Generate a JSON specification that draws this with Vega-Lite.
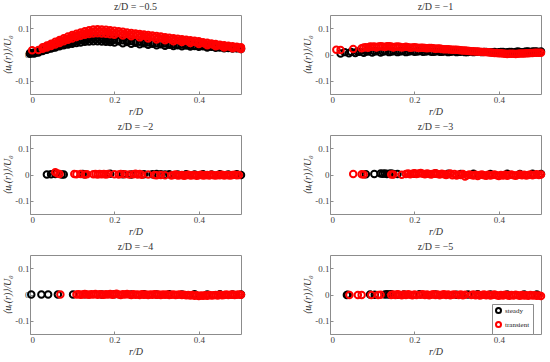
{
"$schema":"https://vega.github.io/schema/vega-lite/v6.json",
"background":"white",
"padding":{"left":2,"top":1,"right":2,"bottom":1},
"columns":2,
"spacing":{"row":4,"column":53},
"data":{"values":[
{"z":"-0.5","s":"steady","r":0,"u":0.006},{"z":"-0.5","s":"steady","r":0.01,"u":0.008},{"z":"-0.5","s":"steady","r":0.02,"u":0.012},{"z":"-0.5","s":"steady","r":0.03,"u":0.017},{"z":"-0.5","s":"steady","r":0.04,"u":0.022},{"z":"-0.5","s":"steady","r":0.05,"u":0.027},{"z":"-0.5","s":"steady","r":0.06,"u":0.032},{"z":"-0.5","s":"steady","r":0.07,"u":0.037},{"z":"-0.5","s":"steady","r":0.08,"u":0.042},{"z":"-0.5","s":"steady","r":0.09,"u":0.047},{"z":"-0.5","s":"steady","r":0.1,"u":0.052},{"z":"-0.5","s":"steady","r":0.11,"u":0.056},{"z":"-0.5","s":"steady","r":0.12,"u":0.06},{"z":"-0.5","s":"steady","r":0.13,"u":0.063},{"z":"-0.5","s":"steady","r":0.14,"u":0.065},{"z":"-0.5","s":"steady","r":0.15,"u":0.066},{"z":"-0.5","s":"steady","r":0.16,"u":0.065},{"z":"-0.5","s":"steady","r":0.17,"u":0.064},{"z":"-0.5","s":"steady","r":0.18,"u":0.062},{"z":"-0.5","s":"steady","r":0.19,"u":0.06},{"z":"-0.5","s":"steady","r":0.2,"u":0.058},{"z":"-0.5","s":"steady","r":0.21,"u":0.056},{"z":"-0.5","s":"steady","r":0.22,"u":0.054},{"z":"-0.5","s":"steady","r":0.23,"u":0.052},{"z":"-0.5","s":"steady","r":0.24,"u":0.051},{"z":"-0.5","s":"steady","r":0.25,"u":0.049},{"z":"-0.5","s":"steady","r":0.26,"u":0.048},{"z":"-0.5","s":"steady","r":0.27,"u":0.047},{"z":"-0.5","s":"steady","r":0.28,"u":0.046},{"z":"-0.5","s":"steady","r":0.29,"u":0.045},{"z":"-0.5","s":"steady","r":0.3,"u":0.044},{"z":"-0.5","s":"steady","r":0.31,"u":0.043},{"z":"-0.5","s":"steady","r":0.32,"u":0.042},{"z":"-0.5","s":"steady","r":0.33,"u":0.041},{"z":"-0.5","s":"steady","r":0.34,"u":0.04},{"z":"-0.5","s":"steady","r":0.35,"u":0.039},{"z":"-0.5","s":"steady","r":0.36,"u":0.038},{"z":"-0.5","s":"steady","r":0.37,"u":0.037},{"z":"-0.5","s":"steady","r":0.38,"u":0.036},{"z":"-0.5","s":"steady","r":0.39,"u":0.035},{"z":"-0.5","s":"steady","r":0.4,"u":0.034},{"z":"-0.5","s":"steady","r":0.41,"u":0.033},{"z":"-0.5","s":"steady","r":0.42,"u":0.032},{"z":"-0.5","s":"steady","r":0.43,"u":0.031},{"z":"-0.5","s":"steady","r":0.44,"u":0.03},{"z":"-0.5","s":"steady","r":0.45,"u":0.029},{"z":"-0.5","s":"steady","r":0.46,"u":0.028},{"z":"-0.5","s":"steady","r":0.47,"u":0.027},{"z":"-0.5","s":"steady","r":0.48,"u":0.026},{"z":"-0.5","s":"steady","r":0.49,"u":0.025},{"z":"-0.5","s":"steady","r":0.5,"u":0.024},
{"z":"-0.5","s":"steady","r":0,"u":0.003},{"z":"-0.5","s":"steady","r":0.01,"u":0.004},{"z":"-0.5","s":"steady","r":0.02,"u":0.008},{"z":"-0.5","s":"steady","r":0.03,"u":0.013},{"z":"-0.5","s":"steady","r":0.04,"u":0.018},{"z":"-0.5","s":"steady","r":0.05,"u":0.023},{"z":"-0.5","s":"steady","r":0.06,"u":0.027},{"z":"-0.5","s":"steady","r":0.07,"u":0.031},{"z":"-0.5","s":"steady","r":0.08,"u":0.035},{"z":"-0.5","s":"steady","r":0.09,"u":0.038},{"z":"-0.5","s":"steady","r":0.1,"u":0.041},{"z":"-0.5","s":"steady","r":0.11,"u":0.044},{"z":"-0.5","s":"steady","r":0.12,"u":0.046},{"z":"-0.5","s":"steady","r":0.13,"u":0.048},{"z":"-0.5","s":"steady","r":0.14,"u":0.049},{"z":"-0.5","s":"steady","r":0.15,"u":0.05},{"z":"-0.5","s":"steady","r":0.16,"u":0.05},{"z":"-0.5","s":"steady","r":0.17,"u":0.049},{"z":"-0.5","s":"steady","r":0.18,"u":0.048},{"z":"-0.5","s":"steady","r":0.19,"u":0.047},{"z":"-0.5","s":"steady","r":0.2,"u":0.046},{"z":"-0.5","s":"steady","r":0.22,"u":0.043},{"z":"-0.5","s":"steady","r":0.24,"u":0.041},{"z":"-0.5","s":"steady","r":0.26,"u":0.039},{"z":"-0.5","s":"steady","r":0.28,"u":0.037},{"z":"-0.5","s":"steady","r":0.3,"u":0.035},{"z":"-0.5","s":"steady","r":0.32,"u":0.033},{"z":"-0.5","s":"steady","r":0.34,"u":0.032},{"z":"-0.5","s":"steady","r":0.36,"u":0.031},{"z":"-0.5","s":"steady","r":0.38,"u":0.03},{"z":"-0.5","s":"steady","r":0.4,"u":0.029},{"z":"-0.5","s":"steady","r":0.42,"u":0.027},{"z":"-0.5","s":"steady","r":0.44,"u":0.026},{"z":"-0.5","s":"steady","r":0.46,"u":0.024},{"z":"-0.5","s":"steady","r":0.48,"u":0.023},{"z":"-0.5","s":"steady","r":0.5,"u":0.021},
{"z":"-0.5","s":"steady","r":0.005,"u":0.005},{"z":"-0.5","s":"steady","r":0.015,"u":0.008},{"z":"-0.5","s":"steady","r":0.025,"u":0.013},{"z":"-0.5","s":"steady","r":0.035,"u":0.018},{"z":"-0.5","s":"steady","r":0.045,"u":0.023},{"z":"-0.5","s":"steady","r":0.055,"u":0.027},{"z":"-0.5","s":"steady","r":0.065,"u":0.032},{"z":"-0.5","s":"steady","r":0.075,"u":0.036},{"z":"-0.5","s":"steady","r":0.085,"u":0.041},{"z":"-0.5","s":"steady","r":0.095,"u":0.045},{"z":"-0.5","s":"steady","r":0.105,"u":0.048},{"z":"-0.5","s":"steady","r":0.115,"u":0.052},{"z":"-0.5","s":"steady","r":0.125,"u":0.054},{"z":"-0.5","s":"steady","r":0.135,"u":0.056},{"z":"-0.5","s":"steady","r":0.145,"u":0.058},{"z":"-0.5","s":"steady","r":0.155,"u":0.058},{"z":"-0.5","s":"steady","r":0.165,"u":0.057},{"z":"-0.5","s":"steady","r":0.175,"u":0.056},{"z":"-0.5","s":"steady","r":0.185,"u":0.054},{"z":"-0.5","s":"steady","r":0.195,"u":0.053},{"z":"-0.5","s":"steady","r":0.21,"u":0.05},{"z":"-0.5","s":"steady","r":0.23,"u":0.047},{"z":"-0.5","s":"steady","r":0.25,"u":0.045},{"z":"-0.5","s":"steady","r":0.27,"u":0.043},{"z":"-0.5","s":"steady","r":0.29,"u":0.041},{"z":"-0.5","s":"steady","r":0.31,"u":0.039},{"z":"-0.5","s":"steady","r":0.33,"u":0.037},{"z":"-0.5","s":"steady","r":0.35,"u":0.035},{"z":"-0.5","s":"steady","r":0.37,"u":0.034},{"z":"-0.5","s":"steady","r":0.39,"u":0.032},{"z":"-0.5","s":"steady","r":0.41,"u":0.031},{"z":"-0.5","s":"steady","r":0.43,"u":0.029},{"z":"-0.5","s":"steady","r":0.45,"u":0.027},{"z":"-0.5","s":"steady","r":0.47,"u":0.025},{"z":"-0.5","s":"steady","r":0.49,"u":0.024},
{"z":"-0.5","s":"transient","r":0.005,"u":0.016},{"z":"-0.5","s":"transient","r":0.02,"u":0.017},{"z":"-0.5","s":"transient","r":0.03,"u":0.028},{"z":"-0.5","s":"transient","r":0.04,"u":0.034},{"z":"-0.5","s":"transient","r":0.05,"u":0.041},{"z":"-0.5","s":"transient","r":0.06,"u":0.048},{"z":"-0.5","s":"transient","r":0.07,"u":0.055},{"z":"-0.5","s":"transient","r":0.08,"u":0.062},{"z":"-0.5","s":"transient","r":0.09,"u":0.068},{"z":"-0.5","s":"transient","r":0.1,"u":0.074},{"z":"-0.5","s":"transient","r":0.11,"u":0.079},{"z":"-0.5","s":"transient","r":0.12,"u":0.084},{"z":"-0.5","s":"transient","r":0.13,"u":0.088},{"z":"-0.5","s":"transient","r":0.14,"u":0.092},{"z":"-0.5","s":"transient","r":0.15,"u":0.095},{"z":"-0.5","s":"transient","r":0.16,"u":0.096},{"z":"-0.5","s":"transient","r":0.17,"u":0.095},{"z":"-0.5","s":"transient","r":0.18,"u":0.094},{"z":"-0.5","s":"transient","r":0.19,"u":0.092},{"z":"-0.5","s":"transient","r":0.2,"u":0.09},{"z":"-0.5","s":"transient","r":0.21,"u":0.088},{"z":"-0.5","s":"transient","r":0.22,"u":0.086},{"z":"-0.5","s":"transient","r":0.23,"u":0.084},{"z":"-0.5","s":"transient","r":0.24,"u":0.082},{"z":"-0.5","s":"transient","r":0.25,"u":0.08},{"z":"-0.5","s":"transient","r":0.26,"u":0.078},{"z":"-0.5","s":"transient","r":0.27,"u":0.076},{"z":"-0.5","s":"transient","r":0.28,"u":0.074},{"z":"-0.5","s":"transient","r":0.29,"u":0.072},{"z":"-0.5","s":"transient","r":0.3,"u":0.07},{"z":"-0.5","s":"transient","r":0.31,"u":0.068},{"z":"-0.5","s":"transient","r":0.32,"u":0.066},{"z":"-0.5","s":"transient","r":0.33,"u":0.064},{"z":"-0.5","s":"transient","r":0.34,"u":0.062},{"z":"-0.5","s":"transient","r":0.35,"u":0.06},{"z":"-0.5","s":"transient","r":0.36,"u":0.058},{"z":"-0.5","s":"transient","r":0.37,"u":0.056},{"z":"-0.5","s":"transient","r":0.38,"u":0.054},{"z":"-0.5","s":"transient","r":0.39,"u":0.052},{"z":"-0.5","s":"transient","r":0.4,"u":0.05},{"z":"-0.5","s":"transient","r":0.41,"u":0.047},{"z":"-0.5","s":"transient","r":0.42,"u":0.045},{"z":"-0.5","s":"transient","r":0.43,"u":0.042},{"z":"-0.5","s":"transient","r":0.44,"u":0.04},{"z":"-0.5","s":"transient","r":0.45,"u":0.037},{"z":"-0.5","s":"transient","r":0.46,"u":0.035},{"z":"-0.5","s":"transient","r":0.47,"u":0.033},{"z":"-0.5","s":"transient","r":0.48,"u":0.031},{"z":"-0.5","s":"transient","r":0.49,"u":0.029},{"z":"-0.5","s":"transient","r":0.5,"u":0.028},
{"z":"-0.5","s":"transient","r":0.03,"u":0.022},{"z":"-0.5","s":"transient","r":0.04,"u":0.027},{"z":"-0.5","s":"transient","r":0.05,"u":0.032},{"z":"-0.5","s":"transient","r":0.06,"u":0.038},{"z":"-0.5","s":"transient","r":0.07,"u":0.044},{"z":"-0.5","s":"transient","r":0.08,"u":0.05},{"z":"-0.5","s":"transient","r":0.09,"u":0.056},{"z":"-0.5","s":"transient","r":0.1,"u":0.061},{"z":"-0.5","s":"transient","r":0.11,"u":0.066},{"z":"-0.5","s":"transient","r":0.12,"u":0.071},{"z":"-0.5","s":"transient","r":0.13,"u":0.075},{"z":"-0.5","s":"transient","r":0.14,"u":0.078},{"z":"-0.5","s":"transient","r":0.15,"u":0.08},{"z":"-0.5","s":"transient","r":0.16,"u":0.081},{"z":"-0.5","s":"transient","r":0.17,"u":0.08},{"z":"-0.5","s":"transient","r":0.18,"u":0.079},{"z":"-0.5","s":"transient","r":0.19,"u":0.077},{"z":"-0.5","s":"transient","r":0.2,"u":0.075},{"z":"-0.5","s":"transient","r":0.22,"u":0.072},{"z":"-0.5","s":"transient","r":0.24,"u":0.069},{"z":"-0.5","s":"transient","r":0.26,"u":0.065},{"z":"-0.5","s":"transient","r":0.28,"u":0.061},{"z":"-0.5","s":"transient","r":0.3,"u":0.057},{"z":"-0.5","s":"transient","r":0.32,"u":0.054},{"z":"-0.5","s":"transient","r":0.34,"u":0.05},{"z":"-0.5","s":"transient","r":0.36,"u":0.047},{"z":"-0.5","s":"transient","r":0.38,"u":0.044},{"z":"-0.5","s":"transient","r":0.4,"u":0.04},{"z":"-0.5","s":"transient","r":0.42,"u":0.035},{"z":"-0.5","s":"transient","r":0.44,"u":0.031},{"z":"-0.5","s":"transient","r":0.46,"u":0.027},{"z":"-0.5","s":"transient","r":0.48,"u":0.024},{"z":"-0.5","s":"transient","r":0.5,"u":0.021},
{"z":"-0.5","s":"transient","r":0.035,"u":0.028},{"z":"-0.5","s":"transient","r":0.045,"u":0.034},{"z":"-0.5","s":"transient","r":0.055,"u":0.04},{"z":"-0.5","s":"transient","r":0.065,"u":0.046},{"z":"-0.5","s":"transient","r":0.075,"u":0.053},{"z":"-0.5","s":"transient","r":0.085,"u":0.059},{"z":"-0.5","s":"transient","r":0.095,"u":0.065},{"z":"-0.5","s":"transient","r":0.105,"u":0.07},{"z":"-0.5","s":"transient","r":0.115,"u":0.075},{"z":"-0.5","s":"transient","r":0.125,"u":0.08},{"z":"-0.5","s":"transient","r":0.135,"u":0.083},{"z":"-0.5","s":"transient","r":0.145,"u":0.086},{"z":"-0.5","s":"transient","r":0.155,"u":0.088},{"z":"-0.5","s":"transient","r":0.165,"u":0.088},{"z":"-0.5","s":"transient","r":0.175,"u":0.087},{"z":"-0.5","s":"transient","r":0.185,"u":0.086},{"z":"-0.5","s":"transient","r":0.195,"u":0.084},{"z":"-0.5","s":"transient","r":0.205,"u":0.082},{"z":"-0.5","s":"transient","r":0.215,"u":0.08},{"z":"-0.5","s":"transient","r":0.225,"u":0.078},{"z":"-0.5","s":"transient","r":0.235,"u":0.076},{"z":"-0.5","s":"transient","r":0.245,"u":0.075},{"z":"-0.5","s":"transient","r":0.255,"u":0.073},{"z":"-0.5","s":"transient","r":0.265,"u":0.071},{"z":"-0.5","s":"transient","r":0.275,"u":0.069},{"z":"-0.5","s":"transient","r":0.285,"u":0.067},{"z":"-0.5","s":"transient","r":0.295,"u":0.065},{"z":"-0.5","s":"transient","r":0.305,"u":0.063},{"z":"-0.5","s":"transient","r":0.315,"u":0.061},{"z":"-0.5","s":"transient","r":0.325,"u":0.059},{"z":"-0.5","s":"transient","r":0.335,"u":0.057},{"z":"-0.5","s":"transient","r":0.345,"u":0.055},{"z":"-0.5","s":"transient","r":0.355,"u":0.053},{"z":"-0.5","s":"transient","r":0.365,"u":0.052},{"z":"-0.5","s":"transient","r":0.375,"u":0.05},{"z":"-0.5","s":"transient","r":0.385,"u":0.048},{"z":"-0.5","s":"transient","r":0.395,"u":0.046},{"z":"-0.5","s":"transient","r":0.405,"u":0.044},{"z":"-0.5","s":"transient","r":0.415,"u":0.041},{"z":"-0.5","s":"transient","r":0.425,"u":0.039},{"z":"-0.5","s":"transient","r":0.435,"u":0.037},{"z":"-0.5","s":"transient","r":0.445,"u":0.034},{"z":"-0.5","s":"transient","r":0.455,"u":0.032},{"z":"-0.5","s":"transient","r":0.465,"u":0.03},{"z":"-0.5","s":"transient","r":0.475,"u":0.028},{"z":"-0.5","s":"transient","r":0.485,"u":0.027},{"z":"-0.5","s":"transient","r":0.495,"u":0.025},
{"z":"-1","s":"steady","r":0.025,"u":0.004},{"z":"-1","s":"steady","r":0.035,"u":0.009},{"z":"-1","s":"steady","r":0.045,"u":0.005},{"z":"-1","s":"steady","r":0.05,"u":0.01},{"z":"-1","s":"steady","r":0.06,"u":0.006},{"z":"-1","s":"steady","r":0.07,"u":0.01},{"z":"-1","s":"steady","r":0.08,"u":0.007},{"z":"-1","s":"steady","r":0.09,"u":0.011},{"z":"-1","s":"steady","r":0.1,"u":0.008},{"z":"-1","s":"steady","r":0.11,"u":0.012},{"z":"-1","s":"steady","r":0.12,"u":0.008},{"z":"-1","s":"steady","r":0.13,"u":0.012},{"z":"-1","s":"steady","r":0.14,"u":0.009},{"z":"-1","s":"steady","r":0.15,"u":0.012},{"z":"-1","s":"steady","r":0.16,"u":0.009},{"z":"-1","s":"steady","r":0.17,"u":0.012},{"z":"-1","s":"steady","r":0.18,"u":0.009},{"z":"-1","s":"steady","r":0.19,"u":0.012},{"z":"-1","s":"steady","r":0.2,"u":0.01},{"z":"-1","s":"steady","r":0.21,"u":0.012},{"z":"-1","s":"steady","r":0.22,"u":0.01},{"z":"-1","s":"steady","r":0.23,"u":0.012},{"z":"-1","s":"steady","r":0.24,"u":0.01},{"z":"-1","s":"steady","r":0.25,"u":0.011},{"z":"-1","s":"steady","r":0.26,"u":0.01},{"z":"-1","s":"steady","r":0.27,"u":0.011},{"z":"-1","s":"steady","r":0.28,"u":0.009},{"z":"-1","s":"steady","r":0.29,"u":0.011},{"z":"-1","s":"steady","r":0.3,"u":0.009},{"z":"-1","s":"steady","r":0.31,"u":0.01},{"z":"-1","s":"steady","r":0.32,"u":0.009},{"z":"-1","s":"steady","r":0.33,"u":0.01},{"z":"-1","s":"steady","r":0.34,"u":0.009},{"z":"-1","s":"steady","r":0.35,"u":0.01},{"z":"-1","s":"steady","r":0.36,"u":0.009},{"z":"-1","s":"steady","r":0.37,"u":0.01},{"z":"-1","s":"steady","r":0.38,"u":0.009},{"z":"-1","s":"steady","r":0.39,"u":0.01},{"z":"-1","s":"steady","r":0.4,"u":0.009},{"z":"-1","s":"steady","r":0.41,"u":0.01},{"z":"-1","s":"steady","r":0.42,"u":0.009},{"z":"-1","s":"steady","r":0.43,"u":0.01},{"z":"-1","s":"steady","r":0.44,"u":0.01},{"z":"-1","s":"steady","r":0.45,"u":0.01},{"z":"-1","s":"steady","r":0.46,"u":0.01},{"z":"-1","s":"steady","r":0.47,"u":0.011},{"z":"-1","s":"steady","r":0.48,"u":0.011},{"z":"-1","s":"steady","r":0.49,"u":0.011},{"z":"-1","s":"steady","r":0.5,"u":0.011},
{"z":"-1","s":"steady","r":0.065,"u":0.011},{"z":"-1","s":"steady","r":0.085,"u":0.012},{"z":"-1","s":"steady","r":0.105,"u":0.012},{"z":"-1","s":"steady","r":0.125,"u":0.011},{"z":"-1","s":"steady","r":0.145,"u":0.011},{"z":"-1","s":"steady","r":0.165,"u":0.012},{"z":"-1","s":"steady","r":0.185,"u":0.011},{"z":"-1","s":"steady","r":0.205,"u":0.011},{"z":"-1","s":"steady","r":0.225,"u":0.011},{"z":"-1","s":"steady","r":0.245,"u":0.01},{"z":"-1","s":"steady","r":0.265,"u":0.01},{"z":"-1","s":"steady","r":0.285,"u":0.01},{"z":"-1","s":"steady","r":0.305,"u":0.01},{"z":"-1","s":"steady","r":0.325,"u":0.009},{"z":"-1","s":"steady","r":0.345,"u":0.01},{"z":"-1","s":"steady","r":0.365,"u":0.01},{"z":"-1","s":"steady","r":0.385,"u":0.009},{"z":"-1","s":"steady","r":0.405,"u":0.01},{"z":"-1","s":"steady","r":0.425,"u":0.01},{"z":"-1","s":"steady","r":0.445,"u":0.011},{"z":"-1","s":"steady","r":0.465,"u":0.011},{"z":"-1","s":"steady","r":0.485,"u":0.011},
{"z":"-1","s":"transient","r":0.015,"u":0.018},{"z":"-1","s":"transient","r":0.025,"u":0.017},{"z":"-1","s":"transient","r":0.055,"u":0.021},{"z":"-1","s":"transient","r":0.075,"u":0.024},{"z":"-1","s":"transient","r":0.08,"u":0.027},{"z":"-1","s":"transient","r":0.09,"u":0.026},{"z":"-1","s":"transient","r":0.1,"u":0.029},{"z":"-1","s":"transient","r":0.11,"u":0.027},{"z":"-1","s":"transient","r":0.12,"u":0.031},{"z":"-1","s":"transient","r":0.13,"u":0.028},{"z":"-1","s":"transient","r":0.14,"u":0.031},{"z":"-1","s":"transient","r":0.15,"u":0.027},{"z":"-1","s":"transient","r":0.16,"u":0.03},{"z":"-1","s":"transient","r":0.17,"u":0.027},{"z":"-1","s":"transient","r":0.18,"u":0.029},{"z":"-1","s":"transient","r":0.19,"u":0.026},{"z":"-1","s":"transient","r":0.2,"u":0.028},{"z":"-1","s":"transient","r":0.21,"u":0.025},{"z":"-1","s":"transient","r":0.22,"u":0.026},{"z":"-1","s":"transient","r":0.23,"u":0.024},{"z":"-1","s":"transient","r":0.24,"u":0.025},{"z":"-1","s":"transient","r":0.25,"u":0.022},{"z":"-1","s":"transient","r":0.26,"u":0.023},{"z":"-1","s":"transient","r":0.27,"u":0.02},{"z":"-1","s":"transient","r":0.28,"u":0.02},{"z":"-1","s":"transient","r":0.29,"u":0.018},{"z":"-1","s":"transient","r":0.3,"u":0.018},{"z":"-1","s":"transient","r":0.31,"u":0.016},{"z":"-1","s":"transient","r":0.32,"u":0.015},{"z":"-1","s":"transient","r":0.33,"u":0.013},{"z":"-1","s":"transient","r":0.34,"u":0.012},{"z":"-1","s":"transient","r":0.35,"u":0.011},{"z":"-1","s":"transient","r":0.36,"u":0.01},{"z":"-1","s":"transient","r":0.37,"u":0.009},{"z":"-1","s":"transient","r":0.38,"u":0.008},{"z":"-1","s":"transient","r":0.39,"u":0.006},{"z":"-1","s":"transient","r":0.4,"u":0.005},{"z":"-1","s":"transient","r":0.41,"u":0.004},{"z":"-1","s":"transient","r":0.42,"u":0.002},{"z":"-1","s":"transient","r":0.43,"u":0.003},{"z":"-1","s":"transient","r":0.44,"u":0.002},{"z":"-1","s":"transient","r":0.45,"u":0.004},{"z":"-1","s":"transient","r":0.46,"u":0.004},{"z":"-1","s":"transient","r":0.47,"u":0.005},{"z":"-1","s":"transient","r":0.48,"u":0.006},{"z":"-1","s":"transient","r":0.49,"u":0.007},{"z":"-1","s":"transient","r":0.5,"u":0.007},
{"z":"-1","s":"transient","r":0.085,"u":0.028},{"z":"-1","s":"transient","r":0.095,"u":0.03},{"z":"-1","s":"transient","r":0.105,"u":0.03},{"z":"-1","s":"transient","r":0.115,"u":0.03},{"z":"-1","s":"transient","r":0.125,"u":0.03},{"z":"-1","s":"transient","r":0.135,"u":0.031},{"z":"-1","s":"transient","r":0.145,"u":0.03},{"z":"-1","s":"transient","r":0.155,"u":0.029},{"z":"-1","s":"transient","r":0.165,"u":0.029},{"z":"-1","s":"transient","r":0.175,"u":0.028},{"z":"-1","s":"transient","r":0.185,"u":0.028},{"z":"-1","s":"transient","r":0.195,"u":0.027},{"z":"-1","s":"transient","r":0.205,"u":0.027},{"z":"-1","s":"transient","r":0.215,"u":0.026},{"z":"-1","s":"transient","r":0.225,"u":0.025},{"z":"-1","s":"transient","r":0.235,"u":0.025},{"z":"-1","s":"transient","r":0.245,"u":0.024},{"z":"-1","s":"transient","r":0.255,"u":0.023},{"z":"-1","s":"transient","r":0.265,"u":0.021},{"z":"-1","s":"transient","r":0.275,"u":0.02},{"z":"-1","s":"transient","r":0.285,"u":0.019},{"z":"-1","s":"transient","r":0.295,"u":0.018},{"z":"-1","s":"transient","r":0.305,"u":0.017},{"z":"-1","s":"transient","r":0.315,"u":0.0155},{"z":"-1","s":"transient","r":0.325,"u":0.014},{"z":"-1","s":"transient","r":0.335,"u":0.0125},{"z":"-1","s":"transient","r":0.345,"u":0.0115},{"z":"-1","s":"transient","r":0.355,"u":0.0105},{"z":"-1","s":"transient","r":0.365,"u":0.0095},{"z":"-1","s":"transient","r":0.375,"u":0.0085},{"z":"-1","s":"transient","r":0.385,"u":0.007},{"z":"-1","s":"transient","r":0.395,"u":0.0055},{"z":"-1","s":"transient","r":0.405,"u":0.0045},{"z":"-1","s":"transient","r":0.415,"u":0.003},{"z":"-1","s":"transient","r":0.425,"u":0.0025},{"z":"-1","s":"transient","r":0.435,"u":0.0025},{"z":"-1","s":"transient","r":0.445,"u":0.003},{"z":"-1","s":"transient","r":0.455,"u":0.004},{"z":"-1","s":"transient","r":0.465,"u":0.0045},{"z":"-1","s":"transient","r":0.475,"u":0.0055},{"z":"-1","s":"transient","r":0.485,"u":0.0065},{"z":"-1","s":"transient","r":0.495,"u":0.007},
{"z":"-2","s":"steady","r":0.04,"u":0},{"z":"-2","s":"steady","r":0.05,"u":0.001},{"z":"-2","s":"steady","r":0.06,"u":0.002},{"z":"-2","s":"steady","r":0.075,"u":0},{"z":"-2","s":"steady","r":0.08,"u":0},{"z":"-2","s":"steady","r":0.125,"u":0.002},{"z":"-2","s":"steady","r":0.13,"u":0.001},{"z":"-2","s":"steady","r":0.19,"u":0.003},{"z":"-2","s":"steady","r":0.22,"u":0.001},{"z":"-2","s":"steady","r":0.24,"u":0},{"z":"-2","s":"steady","r":0.27,"u":0.001},{"z":"-2","s":"steady","r":0.29,"u":0.001},{"z":"-2","s":"steady","r":0.3,"u":0.002},{"z":"-2","s":"steady","r":0.31,"u":0.001},{"z":"-2","s":"steady","r":0.32,"u":0},{"z":"-2","s":"steady","r":0.33,"u":0.001},{"z":"-2","s":"steady","r":0.35,"u":0},{"z":"-2","s":"steady","r":0.37,"u":0.001},{"z":"-2","s":"steady","r":0.39,"u":0},{"z":"-2","s":"steady","r":0.41,"u":0.001},{"z":"-2","s":"steady","r":0.43,"u":0},{"z":"-2","s":"steady","r":0.45,"u":0.001},{"z":"-2","s":"steady","r":0.47,"u":0},{"z":"-2","s":"steady","r":0.49,"u":0.001},{"z":"-2","s":"steady","r":0.5,"u":-0.002},
{"z":"-2","s":"transient","r":0.06,"u":0.009},{"z":"-2","s":"transient","r":0.065,"u":0.004},{"z":"-2","s":"transient","r":0.07,"u":0.002},{"z":"-2","s":"transient","r":0.105,"u":0.002},{"z":"-2","s":"transient","r":0.11,"u":0.001},{"z":"-2","s":"transient","r":0.12,"u":0.002},{"z":"-2","s":"transient","r":0.13,"u":0},{"z":"-2","s":"transient","r":0.135,"u":0.001},{"z":"-2","s":"transient","r":0.15,"u":0.001},{"z":"-2","s":"transient","r":0.155,"u":0.002},{"z":"-2","s":"transient","r":0.16,"u":0},{"z":"-2","s":"transient","r":0.165,"u":0.002},{"z":"-2","s":"transient","r":0.17,"u":0.001},{"z":"-2","s":"transient","r":0.175,"u":0.002},{"z":"-2","s":"transient","r":0.18,"u":0},{"z":"-2","s":"transient","r":0.185,"u":0.002},{"z":"-2","s":"transient","r":0.2,"u":0.001},{"z":"-2","s":"transient","r":0.21,"u":0},{"z":"-2","s":"transient","r":0.215,"u":0.002},{"z":"-2","s":"transient","r":0.225,"u":0.001},{"z":"-2","s":"transient","r":0.235,"u":0},{"z":"-2","s":"transient","r":0.245,"u":0.001},{"z":"-2","s":"transient","r":0.25,"u":0.003},{"z":"-2","s":"transient","r":0.255,"u":0},{"z":"-2","s":"transient","r":0.26,"u":0.002},{"z":"-2","s":"transient","r":0.265,"u":-0.001},{"z":"-2","s":"transient","r":0.28,"u":0},{"z":"-2","s":"transient","r":0.295,"u":-0.002},{"z":"-2","s":"transient","r":0.3,"u":-0.003},{"z":"-2","s":"transient","r":0.31,"u":-0.002},{"z":"-2","s":"transient","r":0.32,"u":-0.003},{"z":"-2","s":"transient","r":0.335,"u":-0.004},{"z":"-2","s":"transient","r":0.34,"u":-0.002},{"z":"-2","s":"transient","r":0.345,"u":0},{"z":"-2","s":"transient","r":0.35,"u":-0.004},{"z":"-2","s":"transient","r":0.355,"u":-0.003},{"z":"-2","s":"transient","r":0.36,"u":-0.002},{"z":"-2","s":"transient","r":0.365,"u":-0.005},{"z":"-2","s":"transient","r":0.37,"u":-0.003},{"z":"-2","s":"transient","r":0.375,"u":-0.001},{"z":"-2","s":"transient","r":0.38,"u":-0.004},{"z":"-2","s":"transient","r":0.385,"u":-0.003},{"z":"-2","s":"transient","r":0.39,"u":-0.002},{"z":"-2","s":"transient","r":0.395,"u":-0.005},{"z":"-2","s":"transient","r":0.4,"u":-0.003},{"z":"-2","s":"transient","r":0.405,"u":-0.001},{"z":"-2","s":"transient","r":0.41,"u":-0.004},{"z":"-2","s":"transient","r":0.415,"u":-0.003},{"z":"-2","s":"transient","r":0.42,"u":-0.002},{"z":"-2","s":"transient","r":0.425,"u":-0.004},{"z":"-2","s":"transient","r":0.43,"u":-0.001},{"z":"-2","s":"transient","r":0.435,"u":-0.003},{"z":"-2","s":"transient","r":0.44,"u":-0.004},{"z":"-2","s":"transient","r":0.445,"u":-0.002},{"z":"-2","s":"transient","r":0.45,"u":-0.003},{"z":"-2","s":"transient","r":0.455,"u":-0.001},{"z":"-2","s":"transient","r":0.46,"u":-0.004},{"z":"-2","s":"transient","r":0.465,"u":-0.002},{"z":"-2","s":"transient","r":0.47,"u":-0.003},{"z":"-2","s":"transient","r":0.475,"u":-0.004},{"z":"-2","s":"transient","r":0.48,"u":-0.002},{"z":"-2","s":"transient","r":0.485,"u":-0.001},{"z":"-2","s":"transient","r":0.49,"u":-0.003},{"z":"-2","s":"transient","r":0.495,"u":-0.002},
{"z":"-3","s":"steady","r":0.085,"u":0.001},{"z":"-3","s":"steady","r":0.105,"u":0.002},{"z":"-3","s":"steady","r":0.12,"u":0.004},{"z":"-3","s":"steady","r":0.125,"u":0.003},{"z":"-3","s":"steady","r":0.13,"u":0.004},{"z":"-3","s":"steady","r":0.135,"u":0.002},{"z":"-3","s":"steady","r":0.14,"u":0.003},{"z":"-3","s":"steady","r":0.145,"u":0.004},{"z":"-3","s":"steady","r":0.15,"u":0.002},{"z":"-3","s":"steady","r":0.16,"u":0.002},{"z":"-3","s":"steady","r":0.2,"u":0.003},{"z":"-3","s":"steady","r":0.25,"u":0.004},{"z":"-3","s":"steady","r":0.28,"u":0.003},{"z":"-3","s":"steady","r":0.31,"u":0.002},{"z":"-3","s":"steady","r":0.34,"u":0.003},{"z":"-3","s":"steady","r":0.38,"u":0.002},{"z":"-3","s":"steady","r":0.42,"u":0.003},{"z":"-3","s":"steady","r":0.45,"u":0.002},{"z":"-3","s":"steady","r":0.48,"u":0.003},{"z":"-3","s":"steady","r":0.5,"u":0.002},
{"z":"-3","s":"transient","r":0.055,"u":0.002},{"z":"-3","s":"transient","r":0.075,"u":0.001},{"z":"-3","s":"transient","r":0.08,"u":0},{"z":"-3","s":"transient","r":0.145,"u":0},{"z":"-3","s":"transient","r":0.15,"u":0},{"z":"-3","s":"transient","r":0.17,"u":-0.001},{"z":"-3","s":"transient","r":0.18,"u":0.002},{"z":"-3","s":"transient","r":0.185,"u":0.004},{"z":"-3","s":"transient","r":0.19,"u":0.001},{"z":"-3","s":"transient","r":0.195,"u":0.003},{"z":"-3","s":"transient","r":0.2,"u":0.005},{"z":"-3","s":"transient","r":0.205,"u":0.002},{"z":"-3","s":"transient","r":0.21,"u":0.004},{"z":"-3","s":"transient","r":0.215,"u":0.006},{"z":"-3","s":"transient","r":0.22,"u":0.003},{"z":"-3","s":"transient","r":0.225,"u":0.001},{"z":"-3","s":"transient","r":0.23,"u":0.004},{"z":"-3","s":"transient","r":0.235,"u":0.002},{"z":"-3","s":"transient","r":0.24,"u":0},{"z":"-3","s":"transient","r":0.245,"u":0.003},{"z":"-3","s":"transient","r":0.25,"u":0.005},{"z":"-3","s":"transient","r":0.255,"u":0.002},{"z":"-3","s":"transient","r":0.26,"u":0},{"z":"-3","s":"transient","r":0.265,"u":0.003},{"z":"-3","s":"transient","r":0.27,"u":0.001},{"z":"-3","s":"transient","r":0.275,"u":-0.002},{"z":"-3","s":"transient","r":0.28,"u":0.001},{"z":"-3","s":"transient","r":0.285,"u":0.004},{"z":"-3","s":"transient","r":0.29,"u":-0.003},{"z":"-3","s":"transient","r":0.295,"u":0.002},{"z":"-3","s":"transient","r":0.3,"u":-0.004},{"z":"-3","s":"transient","r":0.305,"u":0},{"z":"-3","s":"transient","r":0.31,"u":-0.002},{"z":"-3","s":"transient","r":0.315,"u":0.002},{"z":"-3","s":"transient","r":0.32,"u":-0.008},{"z":"-3","s":"transient","r":0.325,"u":-0.003},{"z":"-3","s":"transient","r":0.33,"u":0},{"z":"-3","s":"transient","r":0.335,"u":-0.002},{"z":"-3","s":"transient","r":0.34,"u":-0.004},{"z":"-3","s":"transient","r":0.345,"u":-0.001},{"z":"-3","s":"transient","r":0.35,"u":-0.006},{"z":"-3","s":"transient","r":0.355,"u":-0.002},{"z":"-3","s":"transient","r":0.36,"u":0},{"z":"-3","s":"transient","r":0.365,"u":-0.003},{"z":"-3","s":"transient","r":0.37,"u":-0.005},{"z":"-3","s":"transient","r":0.375,"u":-0.001},{"z":"-3","s":"transient","r":0.38,"u":-0.004},{"z":"-3","s":"transient","r":0.385,"u":-0.002},{"z":"-3","s":"transient","r":0.39,"u":0},{"z":"-3","s":"transient","r":0.395,"u":-0.003},{"z":"-3","s":"transient","r":0.4,"u":-0.006},{"z":"-3","s":"transient","r":0.405,"u":-0.002},{"z":"-3","s":"transient","r":0.41,"u":-0.004},{"z":"-3","s":"transient","r":0.415,"u":-0.001},{"z":"-3","s":"transient","r":0.42,"u":-0.005},{"z":"-3","s":"transient","r":0.425,"u":-0.002},{"z":"-3","s":"transient","r":0.43,"u":0},{"z":"-3","s":"transient","r":0.435,"u":-0.003},{"z":"-3","s":"transient","r":0.44,"u":-0.005},{"z":"-3","s":"transient","r":0.445,"u":-0.002},{"z":"-3","s":"transient","r":0.45,"u":0},{"z":"-3","s":"transient","r":0.455,"u":-0.003},{"z":"-3","s":"transient","r":0.46,"u":-0.001},{"z":"-3","s":"transient","r":0.465,"u":-0.004},{"z":"-3","s":"transient","r":0.47,"u":-0.002},{"z":"-3","s":"transient","r":0.475,"u":0},{"z":"-3","s":"transient","r":0.48,"u":-0.003},{"z":"-3","s":"transient","r":0.485,"u":-0.001},{"z":"-3","s":"transient","r":0.49,"u":0.001},{"z":"-3","s":"transient","r":0.495,"u":-0.002},{"z":"-3","s":"transient","r":0.5,"u":0},
{"z":"-4","s":"steady","r":0.003,"u":0},{"z":"-4","s":"steady","r":0.027,"u":0},{"z":"-4","s":"steady","r":0.043,"u":0},{"z":"-4","s":"steady","r":0.066,"u":0},{"z":"-4","s":"steady","r":0.102,"u":0},{"z":"-4","s":"steady","r":0.13,"u":0.001},{"z":"-4","s":"steady","r":0.17,"u":0},{"z":"-4","s":"steady","r":0.2,"u":0.001},{"z":"-4","s":"steady","r":0.24,"u":0},{"z":"-4","s":"steady","r":0.27,"u":0.001},{"z":"-4","s":"steady","r":0.3,"u":0},{"z":"-4","s":"steady","r":0.33,"u":0.001},{"z":"-4","s":"steady","r":0.36,"u":0},{"z":"-4","s":"steady","r":0.39,"u":0.001},{"z":"-4","s":"steady","r":0.42,"u":0},{"z":"-4","s":"steady","r":0.45,"u":0.001},{"z":"-4","s":"steady","r":0.48,"u":0},{"z":"-4","s":"steady","r":0.5,"u":0},
{"z":"-4","s":"transient","r":0.072,"u":0},{"z":"-4","s":"transient","r":0.11,"u":0},{"z":"-4","s":"transient","r":0.115,"u":0.001},{"z":"-4","s":"transient","r":0.12,"u":-0.001},{"z":"-4","s":"transient","r":0.125,"u":0},{"z":"-4","s":"transient","r":0.13,"u":0.002},{"z":"-4","s":"transient","r":0.135,"u":0},{"z":"-4","s":"transient","r":0.14,"u":-0.001},{"z":"-4","s":"transient","r":0.145,"u":0.001},{"z":"-4","s":"transient","r":0.15,"u":0},{"z":"-4","s":"transient","r":0.155,"u":0.002},{"z":"-4","s":"transient","r":0.16,"u":-0.001},{"z":"-4","s":"transient","r":0.165,"u":0.001},{"z":"-4","s":"transient","r":0.17,"u":0},{"z":"-4","s":"transient","r":0.175,"u":-0.001},{"z":"-4","s":"transient","r":0.18,"u":0.001},{"z":"-4","s":"transient","r":0.185,"u":0},{"z":"-4","s":"transient","r":0.19,"u":0.002},{"z":"-4","s":"transient","r":0.195,"u":-0.001},{"z":"-4","s":"transient","r":0.2,"u":0.001},{"z":"-4","s":"transient","r":0.205,"u":0.003},{"z":"-4","s":"transient","r":0.21,"u":0},{"z":"-4","s":"transient","r":0.215,"u":-0.002},{"z":"-4","s":"transient","r":0.22,"u":0.001},{"z":"-4","s":"transient","r":0.225,"u":0},{"z":"-4","s":"transient","r":0.23,"u":0.002},{"z":"-4","s":"transient","r":0.235,"u":0},{"z":"-4","s":"transient","r":0.24,"u":-0.002},{"z":"-4","s":"transient","r":0.245,"u":0.001},{"z":"-4","s":"transient","r":0.25,"u":-0.001},{"z":"-4","s":"transient","r":0.255,"u":0},{"z":"-4","s":"transient","r":0.26,"u":-0.002},{"z":"-4","s":"transient","r":0.265,"u":0.001},{"z":"-4","s":"transient","r":0.27,"u":-0.001},{"z":"-4","s":"transient","r":0.275,"u":0},{"z":"-4","s":"transient","r":0.28,"u":-0.002},{"z":"-4","s":"transient","r":0.285,"u":0},{"z":"-4","s":"transient","r":0.29,"u":-0.001},{"z":"-4","s":"transient","r":0.295,"u":0.001},{"z":"-4","s":"transient","r":0.3,"u":-0.001},{"z":"-4","s":"transient","r":0.305,"u":0},{"z":"-4","s":"transient","r":0.31,"u":-0.002},{"z":"-4","s":"transient","r":0.315,"u":0},{"z":"-4","s":"transient","r":0.32,"u":-0.001},{"z":"-4","s":"transient","r":0.325,"u":0},{"z":"-4","s":"transient","r":0.33,"u":-0.002},{"z":"-4","s":"transient","r":0.335,"u":-0.001},{"z":"-4","s":"transient","r":0.34,"u":0},{"z":"-4","s":"transient","r":0.345,"u":-0.002},{"z":"-4","s":"transient","r":0.35,"u":-0.001},{"z":"-4","s":"transient","r":0.355,"u":0},{"z":"-4","s":"transient","r":0.36,"u":-0.002},{"z":"-4","s":"transient","r":0.365,"u":-0.001},{"z":"-4","s":"transient","r":0.37,"u":-0.003},{"z":"-4","s":"transient","r":0.375,"u":-0.002},{"z":"-4","s":"transient","r":0.38,"u":-0.004},{"z":"-4","s":"transient","r":0.385,"u":-0.002},{"z":"-4","s":"transient","r":0.39,"u":-0.005},{"z":"-4","s":"transient","r":0.395,"u":-0.003},{"z":"-4","s":"transient","r":0.4,"u":-0.006},{"z":"-4","s":"transient","r":0.405,"u":-0.004},{"z":"-4","s":"transient","r":0.41,"u":-0.005},{"z":"-4","s":"transient","r":0.415,"u":-0.003},{"z":"-4","s":"transient","r":0.42,"u":-0.005},{"z":"-4","s":"transient","r":0.425,"u":-0.002},{"z":"-4","s":"transient","r":0.43,"u":-0.004},{"z":"-4","s":"transient","r":0.435,"u":-0.003},{"z":"-4","s":"transient","r":0.44,"u":-0.002},{"z":"-4","s":"transient","r":0.445,"u":-0.004},{"z":"-4","s":"transient","r":0.45,"u":-0.001},{"z":"-4","s":"transient","r":0.455,"u":-0.003},{"z":"-4","s":"transient","r":0.46,"u":-0.002},{"z":"-4","s":"transient","r":0.465,"u":0},{"z":"-4","s":"transient","r":0.47,"u":-0.002},{"z":"-4","s":"transient","r":0.475,"u":-0.001},{"z":"-4","s":"transient","r":0.48,"u":0},{"z":"-4","s":"transient","r":0.485,"u":-0.002},{"z":"-4","s":"transient","r":0.49,"u":-0.001},{"z":"-4","s":"transient","r":0.495,"u":0},{"z":"-4","s":"transient","r":0.5,"u":-0.001},
{"z":"-5","s":"steady","r":0.04,"u":-0.002},{"z":"-5","s":"steady","r":0.042,"u":-0.001},{"z":"-5","s":"steady","r":0.095,"u":0},{"z":"-5","s":"steady","r":0.106,"u":-0.001},{"z":"-5","s":"steady","r":0.13,"u":0},{"z":"-5","s":"steady","r":0.135,"u":0.001},{"z":"-5","s":"steady","r":0.14,"u":0},{"z":"-5","s":"steady","r":0.145,"u":0.001},{"z":"-5","s":"steady","r":0.16,"u":-0.001},{"z":"-5","s":"steady","r":0.175,"u":0},{"z":"-5","s":"steady","r":0.212,"u":0.001},{"z":"-5","s":"steady","r":0.25,"u":0},{"z":"-5","s":"steady","r":0.3,"u":-0.001},{"z":"-5","s":"steady","r":0.327,"u":0},{"z":"-5","s":"steady","r":0.35,"u":0.001},{"z":"-5","s":"steady","r":0.38,"u":0},{"z":"-5","s":"steady","r":0.42,"u":0},{"z":"-5","s":"steady","r":0.46,"u":0},{"z":"-5","s":"steady","r":0.49,"u":0},
{"z":"-5","s":"transient","r":0.046,"u":-0.002},{"z":"-5","s":"transient","r":0.066,"u":-0.002},{"z":"-5","s":"transient","r":0.075,"u":-0.002},{"z":"-5","s":"transient","r":0.098,"u":-0.002},{"z":"-5","s":"transient","r":0.114,"u":-0.002},{"z":"-5","s":"transient","r":0.12,"u":-0.001},{"z":"-5","s":"transient","r":0.145,"u":-0.002},{"z":"-5","s":"transient","r":0.15,"u":0},{"z":"-5","s":"transient","r":0.155,"u":-0.002},{"z":"-5","s":"transient","r":0.16,"u":0.001},{"z":"-5","s":"transient","r":0.165,"u":-0.001},{"z":"-5","s":"transient","r":0.17,"u":-0.003},{"z":"-5","s":"transient","r":0.175,"u":0},{"z":"-5","s":"transient","r":0.18,"u":-0.002},{"z":"-5","s":"transient","r":0.185,"u":0.001},{"z":"-5","s":"transient","r":0.19,"u":-0.001},{"z":"-5","s":"transient","r":0.195,"u":-0.003},{"z":"-5","s":"transient","r":0.2,"u":0},{"z":"-5","s":"transient","r":0.205,"u":-0.002},{"z":"-5","s":"transient","r":0.215,"u":-0.001},{"z":"-5","s":"transient","r":0.22,"u":0.001},{"z":"-5","s":"transient","r":0.225,"u":-0.002},{"z":"-5","s":"transient","r":0.23,"u":0},{"z":"-5","s":"transient","r":0.235,"u":-0.003},{"z":"-5","s":"transient","r":0.24,"u":-0.001},{"z":"-5","s":"transient","r":0.245,"u":0.001},{"z":"-5","s":"transient","r":0.25,"u":-0.002},{"z":"-5","s":"transient","r":0.255,"u":0},{"z":"-5","s":"transient","r":0.26,"u":-0.003},{"z":"-5","s":"transient","r":0.265,"u":-0.001},{"z":"-5","s":"transient","r":0.27,"u":0.001},{"z":"-5","s":"transient","r":0.275,"u":-0.002},{"z":"-5","s":"transient","r":0.28,"u":0},{"z":"-5","s":"transient","r":0.285,"u":-0.003},{"z":"-5","s":"transient","r":0.29,"u":-0.001},{"z":"-5","s":"transient","r":0.295,"u":0},{"z":"-5","s":"transient","r":0.305,"u":-0.002},{"z":"-5","s":"transient","r":0.31,"u":0},{"z":"-5","s":"transient","r":0.315,"u":-0.003},{"z":"-5","s":"transient","r":0.32,"u":-0.001},{"z":"-5","s":"transient","r":0.335,"u":-0.002},{"z":"-5","s":"transient","r":0.34,"u":0},{"z":"-5","s":"transient","r":0.345,"u":-0.003},{"z":"-5","s":"transient","r":0.35,"u":-0.001},{"z":"-5","s":"transient","r":0.355,"u":-0.004},{"z":"-5","s":"transient","r":0.36,"u":-0.002},{"z":"-5","s":"transient","r":0.365,"u":0},{"z":"-5","s":"transient","r":0.37,"u":-0.003},{"z":"-5","s":"transient","r":0.375,"u":-0.001},{"z":"-5","s":"transient","r":0.38,"u":-0.004},{"z":"-5","s":"transient","r":0.385,"u":-0.002},{"z":"-5","s":"transient","r":0.39,"u":0},{"z":"-5","s":"transient","r":0.395,"u":-0.003},{"z":"-5","s":"transient","r":0.4,"u":-0.005},{"z":"-5","s":"transient","r":0.405,"u":-0.002},{"z":"-5","s":"transient","r":0.41,"u":-0.004},{"z":"-5","s":"transient","r":0.415,"u":-0.001},{"z":"-5","s":"transient","r":0.42,"u":-0.003},{"z":"-5","s":"transient","r":0.425,"u":-0.005},{"z":"-5","s":"transient","r":0.43,"u":-0.002},{"z":"-5","s":"transient","r":0.435,"u":-0.004},{"z":"-5","s":"transient","r":0.44,"u":-0.001},{"z":"-5","s":"transient","r":0.445,"u":-0.003},{"z":"-5","s":"transient","r":0.45,"u":-0.005},{"z":"-5","s":"transient","r":0.455,"u":-0.002},{"z":"-5","s":"transient","r":0.46,"u":-0.004},{"z":"-5","s":"transient","r":0.465,"u":-0.003},{"z":"-5","s":"transient","r":0.47,"u":-0.005},{"z":"-5","s":"transient","r":0.475,"u":-0.002},{"z":"-5","s":"transient","r":0.48,"u":-0.004},{"z":"-5","s":"transient","r":0.485,"u":-0.003},{"z":"-5","s":"transient","r":0.49,"u":-0.005},{"z":"-5","s":"transient","r":0.495,"u":-0.004},{"z":"-5","s":"transient","r":0.5,"u":-0.006}
]},
"concat":[
{"title":{"text":"z/D = \u22120.5","font":"Liberation Serif","fontWeight":"normal","fontSize":10},"width":211,"height":79,"transform":[{"filter":"datum.z=='-0.5'"}],
"mark":{"type":"point","shape":"circle","filled":false,"size":42,"strokeWidth":2,"opacity":1},
"encoding":{"x":{"field":"r","type":"quantitative","scale":{"domain":[0,0.5],"nice":false},"axis":{"values":[0,0.2,0.4],"title":"r/D"}},"y":{"field":"u","type":"quantitative","scale":{"domain":[-0.15,0.15],"nice":false},"axis":{"values":[-0.1,0,0.1],"title":"\u27e8u\u1d63(r)\u27e9/U\u2080"}},"color":{"field":"s","type":"nominal","scale":{"domain":["steady","transient"],"range":["#000000","#ff0000"]},"legend":{"orient":"none","legendX":462,"legendY":289,"title":null}}}},
{"title":{"text":"z/D = \u22121","font":"Liberation Serif","fontWeight":"normal","fontSize":10},"width":211,"height":79,"transform":[{"filter":"datum.z=='-1'"}],
"mark":{"type":"point","shape":"circle","filled":false,"size":42,"strokeWidth":2,"opacity":1},
"encoding":{"x":{"field":"r","type":"quantitative","scale":{"domain":[0,0.5],"nice":false},"axis":{"values":[0,0.2,0.4],"title":"r/D"}},"y":{"field":"u","type":"quantitative","scale":{"domain":[-0.15,0.15],"nice":false},"axis":{"values":[-0.1,0,0.1],"title":"\u27e8u\u1d63(r)\u27e9/U\u2080"}},"color":{"field":"s","type":"nominal","scale":{"domain":["steady","transient"],"range":["#000000","#ff0000"]},"legend":{"orient":"none","legendX":462,"legendY":289,"title":null}}}},
{"title":{"text":"z/D = \u22122","font":"Liberation Serif","fontWeight":"normal","fontSize":10},"width":211,"height":79,"transform":[{"filter":"datum.z=='-2'"}],
"mark":{"type":"point","shape":"circle","filled":false,"size":42,"strokeWidth":2,"opacity":1},
"encoding":{"x":{"field":"r","type":"quantitative","scale":{"domain":[0,0.5],"nice":false},"axis":{"values":[0,0.2,0.4],"title":"r/D"}},"y":{"field":"u","type":"quantitative","scale":{"domain":[-0.15,0.15],"nice":false},"axis":{"values":[-0.1,0,0.1],"title":"\u27e8u\u1d63(r)\u27e9/U\u2080"}},"color":{"field":"s","type":"nominal","scale":{"domain":["steady","transient"],"range":["#000000","#ff0000"]},"legend":{"orient":"none","legendX":462,"legendY":289,"title":null}}}},
{"title":{"text":"z/D = \u22123","font":"Liberation Serif","fontWeight":"normal","fontSize":10},"width":211,"height":79,"transform":[{"filter":"datum.z=='-3'"}],
"mark":{"type":"point","shape":"circle","filled":false,"size":42,"strokeWidth":2,"opacity":1},
"encoding":{"x":{"field":"r","type":"quantitative","scale":{"domain":[0,0.5],"nice":false},"axis":{"values":[0,0.2,0.4],"title":"r/D"}},"y":{"field":"u","type":"quantitative","scale":{"domain":[-0.15,0.15],"nice":false},"axis":{"values":[-0.1,0,0.1],"title":"\u27e8u\u1d63(r)\u27e9/U\u2080"}},"color":{"field":"s","type":"nominal","scale":{"domain":["steady","transient"],"range":["#000000","#ff0000"]},"legend":{"orient":"none","legendX":462,"legendY":289,"title":null}}}},
{"title":{"text":"z/D = \u22124","font":"Liberation Serif","fontWeight":"normal","fontSize":10},"width":211,"height":79,"transform":[{"filter":"datum.z=='-4'"}],
"mark":{"type":"point","shape":"circle","filled":false,"size":42,"strokeWidth":2,"opacity":1},
"encoding":{"x":{"field":"r","type":"quantitative","scale":{"domain":[0,0.5],"nice":false},"axis":{"values":[0,0.2,0.4],"title":"r/D"}},"y":{"field":"u","type":"quantitative","scale":{"domain":[-0.15,0.15],"nice":false},"axis":{"values":[-0.1,0,0.1],"title":"\u27e8u\u1d63(r)\u27e9/U\u2080"}},"color":{"field":"s","type":"nominal","scale":{"domain":["steady","transient"],"range":["#000000","#ff0000"]},"legend":{"orient":"none","legendX":462,"legendY":289,"title":null}}}},
{"title":{"text":"z/D = \u22125","font":"Liberation Serif","fontWeight":"normal","fontSize":10},"width":211,"height":79,"transform":[{"filter":"datum.z=='-5'"}],
"mark":{"type":"point","shape":"circle","filled":false,"size":42,"strokeWidth":2,"opacity":1},
"encoding":{"x":{"field":"r","type":"quantitative","scale":{"domain":[0,0.5],"nice":false},"axis":{"values":[0,0.2,0.4],"title":"r/D"}},"y":{"field":"u","type":"quantitative","scale":{"domain":[-0.15,0.15],"nice":false},"axis":{"values":[-0.1,0,0.1],"title":"\u27e8u\u1d63(r)\u27e9/U\u2080"}},"color":{"field":"s","type":"nominal","scale":{"domain":["steady","transient"],"range":["#000000","#ff0000"]},"legend":{"orient":"none","legendX":462,"legendY":289,"title":null}}}}
],
"config":{
"font":"Liberation Serif",
"view":{"stroke":"#8c8c8c","strokeWidth":1},
"title":{"font":"Liberation Serif","fontSize":10,"fontWeight":"normal","color":"#333333","offset":3},
"axis":{"grid":false,"domain":false,"labelFont":"Liberation Serif","labelFontSize":9,"labelColor":"#444444","titleFont":"Liberation Serif","titleFontSize":10,"titleFontWeight":"normal","titleFontStyle":"italic","titleColor":"#333333","tickColor":"#8c8c8c","tickSize":-3,"labelPadding":4,"titlePadding":2,"labelExpr":"datum.value < 0 ? '-0.1' : format(datum.value, '~g')"},
"legend":{"strokeColor":"#8c8c8c","fillColor":"white","padding":3,"labelFont":"Liberation Serif","labelFontSize":7,"labelColor":"#222222","symbolType":"circle","symbolSize":25,"symbolStrokeWidth":2,"rowPadding":1,"symbolFillColor":"white","labelOffset":3}
}
}
